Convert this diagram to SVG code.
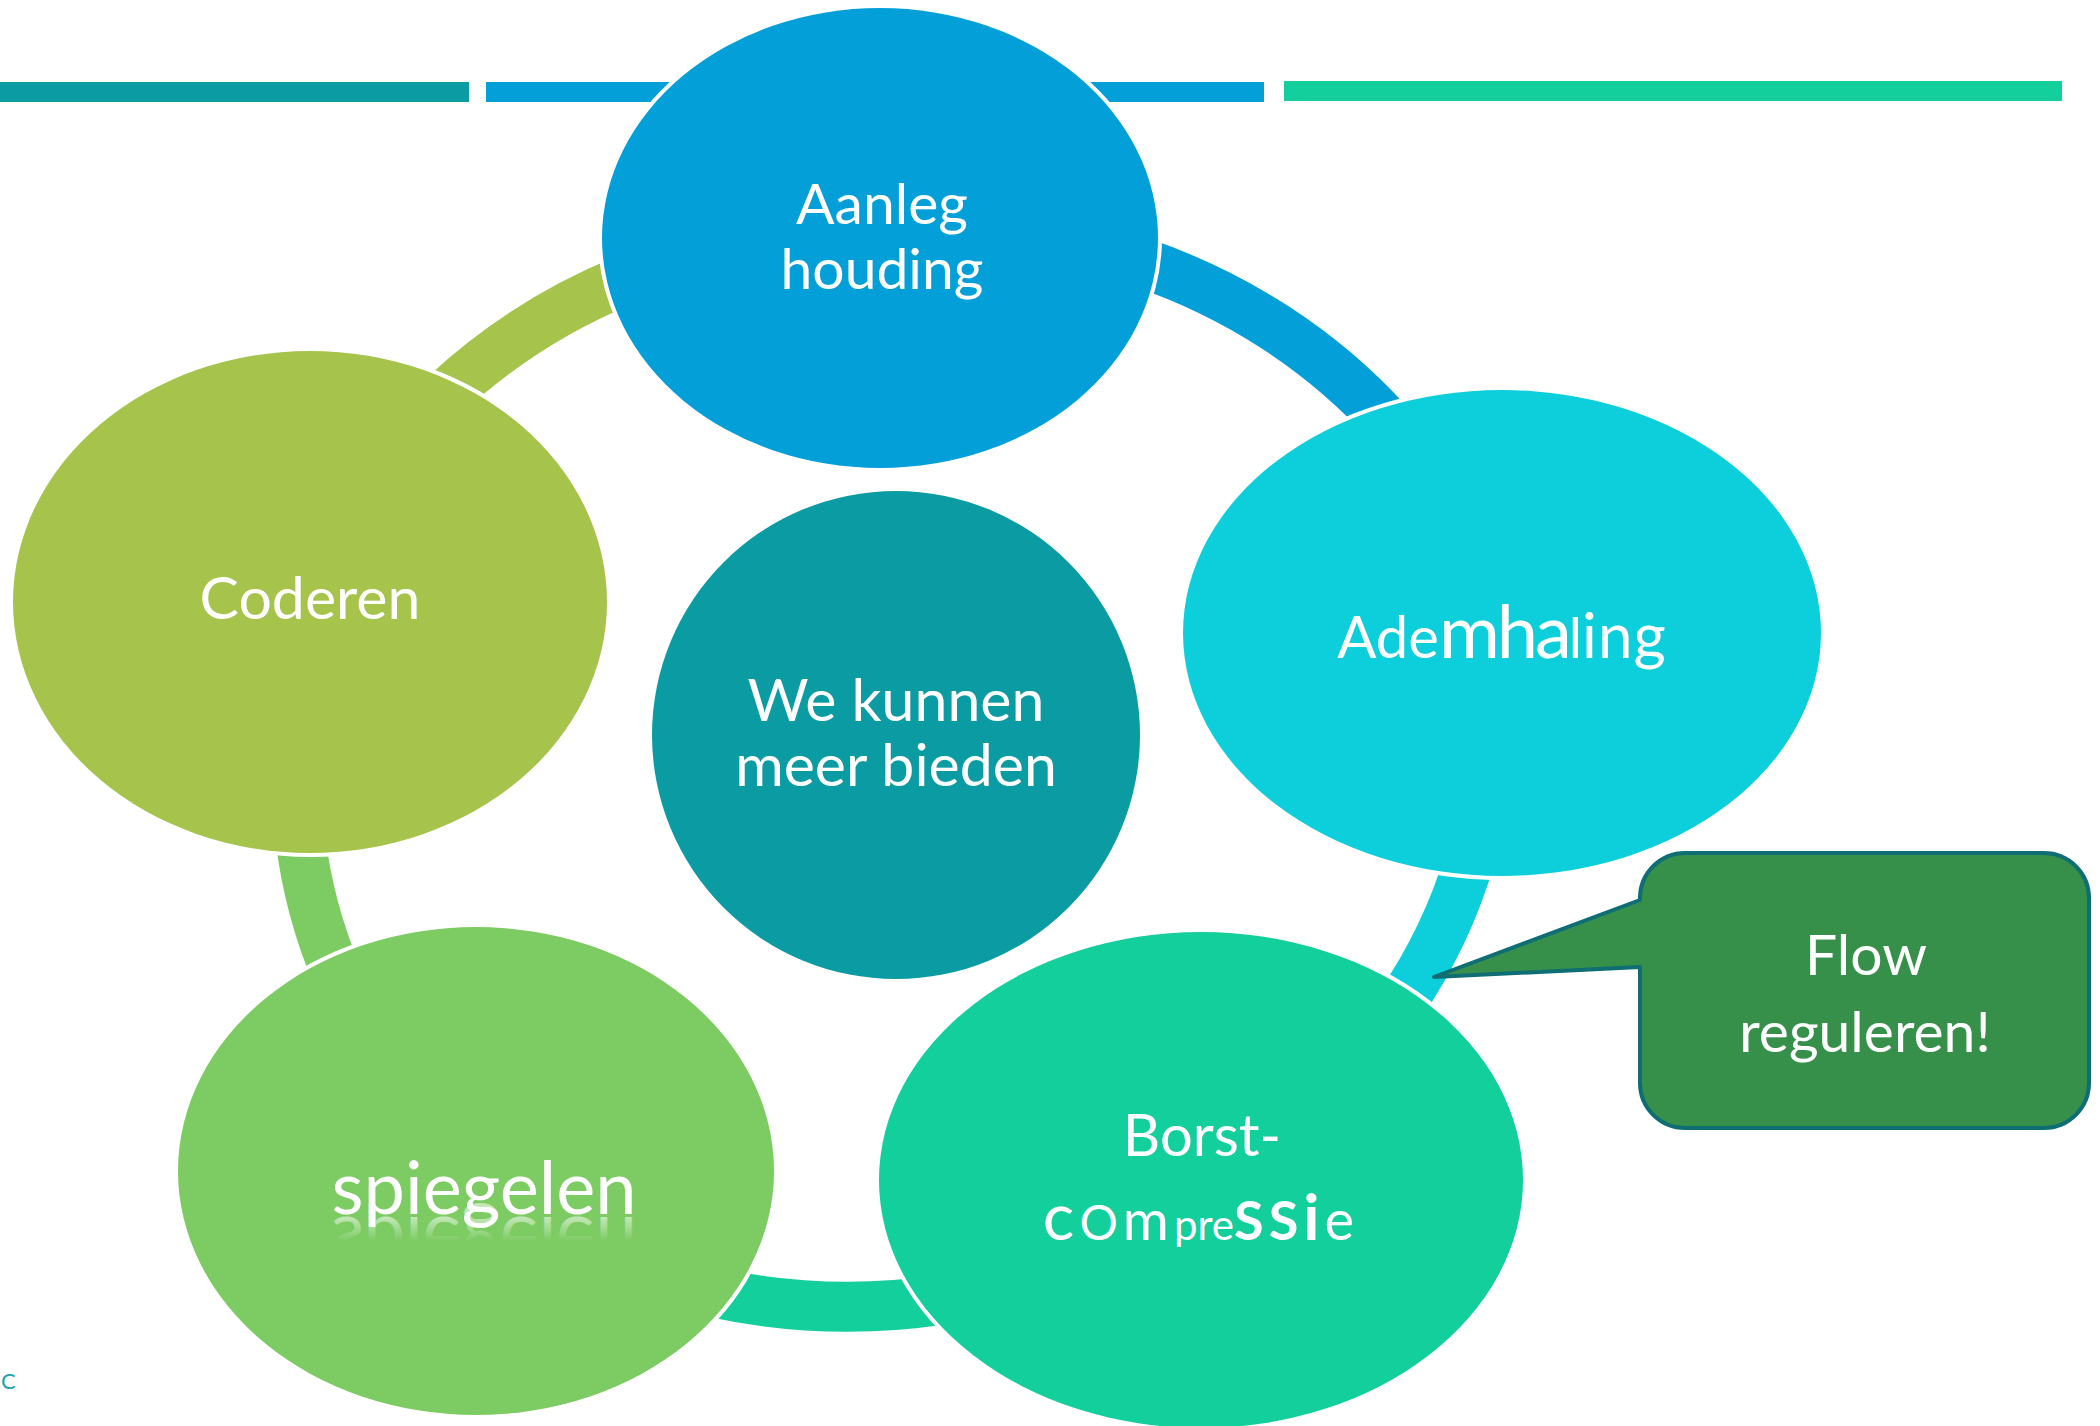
<svg xmlns="http://www.w3.org/2000/svg" width="2100" height="1426" viewBox="0 0 2100 1426">
<defs>
<style>
.node{stroke:#ffffff;stroke-width:8;paint-order:stroke}
.lbl{font-family:Lato,'Open Sans','Liberation Sans',sans-serif;fill:#ffffff;text-anchor:middle}
.conn{fill:none;stroke-width:50;stroke-linecap:butt}
.bar{stroke:none}
</style>
<linearGradient id="refl" gradientUnits="userSpaceOnUse" x1="0" y1="1214" x2="0" y2="1190">
<stop offset="0" stop-color="#ffffff" stop-opacity="0.55"/>
<stop offset="1" stop-color="#ffffff" stop-opacity="0"/>
</linearGradient>
</defs>
<rect width="2100" height="1426" fill="#ffffff"/>
<g id="bars">
<rect class="bar" x="0" y="82" width="469" height="20" fill="#0A9BA3"/>
<rect class="bar" x="486" y="82" width="300" height="20" fill="#039FD8"/>
<rect class="bar" x="1000" y="82" width="264" height="20" fill="#039FD8"/>
<rect class="bar" x="1284" y="81" width="778" height="20" fill="#13CF9B"/>
</g>
<g id="connectors">
<path class="conn" stroke="#A6C34B" d="M445,395 A589,545 0 0 1 625,280"/>
<path class="conn" stroke="#039FD8" d="M1140,262 A589,545 0 0 1 1388,423"/>
<path class="conn" stroke="#0DCFDB" d="M1470,858 A589,545 0 0 1 1398,1008"/>
<path class="conn" stroke="#13CF9B" d="M940,1300 A589,545 0 0 1 712,1292"/>
<path class="conn" stroke="#7DCB63" d="M338,978 A589,545 0 0 1 300,835"/>
</g>
<g id="node-aanleg">
<ellipse class="node" cx="880" cy="238" rx="278" ry="230" fill="#039FD8"/>
<text class="lbl" font-size="57"><tspan x="882" y="224">Aanleg</tspan><tspan x="882" y="289">houding</tspan></text>
</g>
<g id="node-coderen">
<ellipse class="node" cx="310" cy="602" rx="297" ry="251" fill="#A6C34B"/>
<text class="lbl" font-size="59" x="310" y="619">Coderen</text>
</g>
<g id="node-ademhaling">
<ellipse class="node" cx="1502" cy="633" rx="319" ry="243" fill="#0DCFDB"/>
<text class="lbl" x="1502" y="658" font-size="58">Ade<tspan font-size="74" letter-spacing="-3">mha</tspan><tspan font-size="56">l</tspan><tspan font-size="62" letter-spacing="1">ing</tspan></text>
</g>
<g id="node-center">
<circle class="node" cx="896" cy="735" r="244" fill="#0A9BA3"/>
<text class="lbl" font-size="59"><tspan x="896" y="721">We kunnen</tspan><tspan x="896" y="786">meer bieden</tspan></text>
</g>
<g id="node-spiegelen">
<ellipse class="node" cx="476" cy="1171" rx="298" ry="244" fill="#7DCB63"/>
<text class="lbl" font-size="74" x="484" y="1214" transform="matrix(1 0 0 -1 0 2431)" style="fill:url(#refl)">spiegelen</text>
<text class="lbl" font-size="74" x="484" y="1214">spiegelen</text>
</g>
<g id="node-borst">
<ellipse class="node" cx="1201" cy="1180" rx="322" ry="248" fill="#13CF9B"/>
<text class="lbl" font-size="58" x="1202" y="1156">Borst-</text>
<text class="lbl" x="1201" y="1240" letter-spacing="5"><tspan font-size="66">c</tspan><tspan font-size="48">O</tspan><tspan font-size="56">m</tspan><tspan font-size="42" letter-spacing="0">pre</tspan><tspan font-size="54" font-weight="bold">SS</tspan><tspan font-size="64" font-weight="bold">i</tspan><tspan font-size="56">e</tspan></text>
</g>
<g id="callout">
<path d="M1685,853 H2044 A45,45 0 0 1 2089,898 V1083 A45,45 0 0 1 2044,1128 H1685 A45,45 0 0 1 1640,1083 V967 L1434,977 L1640,900 V898 A45,45 0 0 1 1685,853 Z" fill="#36904A" stroke="#0E6E73" stroke-width="4" stroke-linejoin="round"/>
<text class="lbl" font-size="57"><tspan x="1866" y="975">Flow</tspan><tspan x="1865" y="1052">reguleren!</tspan></text>
</g>
<g id="footer">
<text x="1" y="1389" font-size="22" fill="#1AA5AE" font-family="Lato,'Open Sans','Liberation Sans',sans-serif">C</text>
</g>
</svg>
